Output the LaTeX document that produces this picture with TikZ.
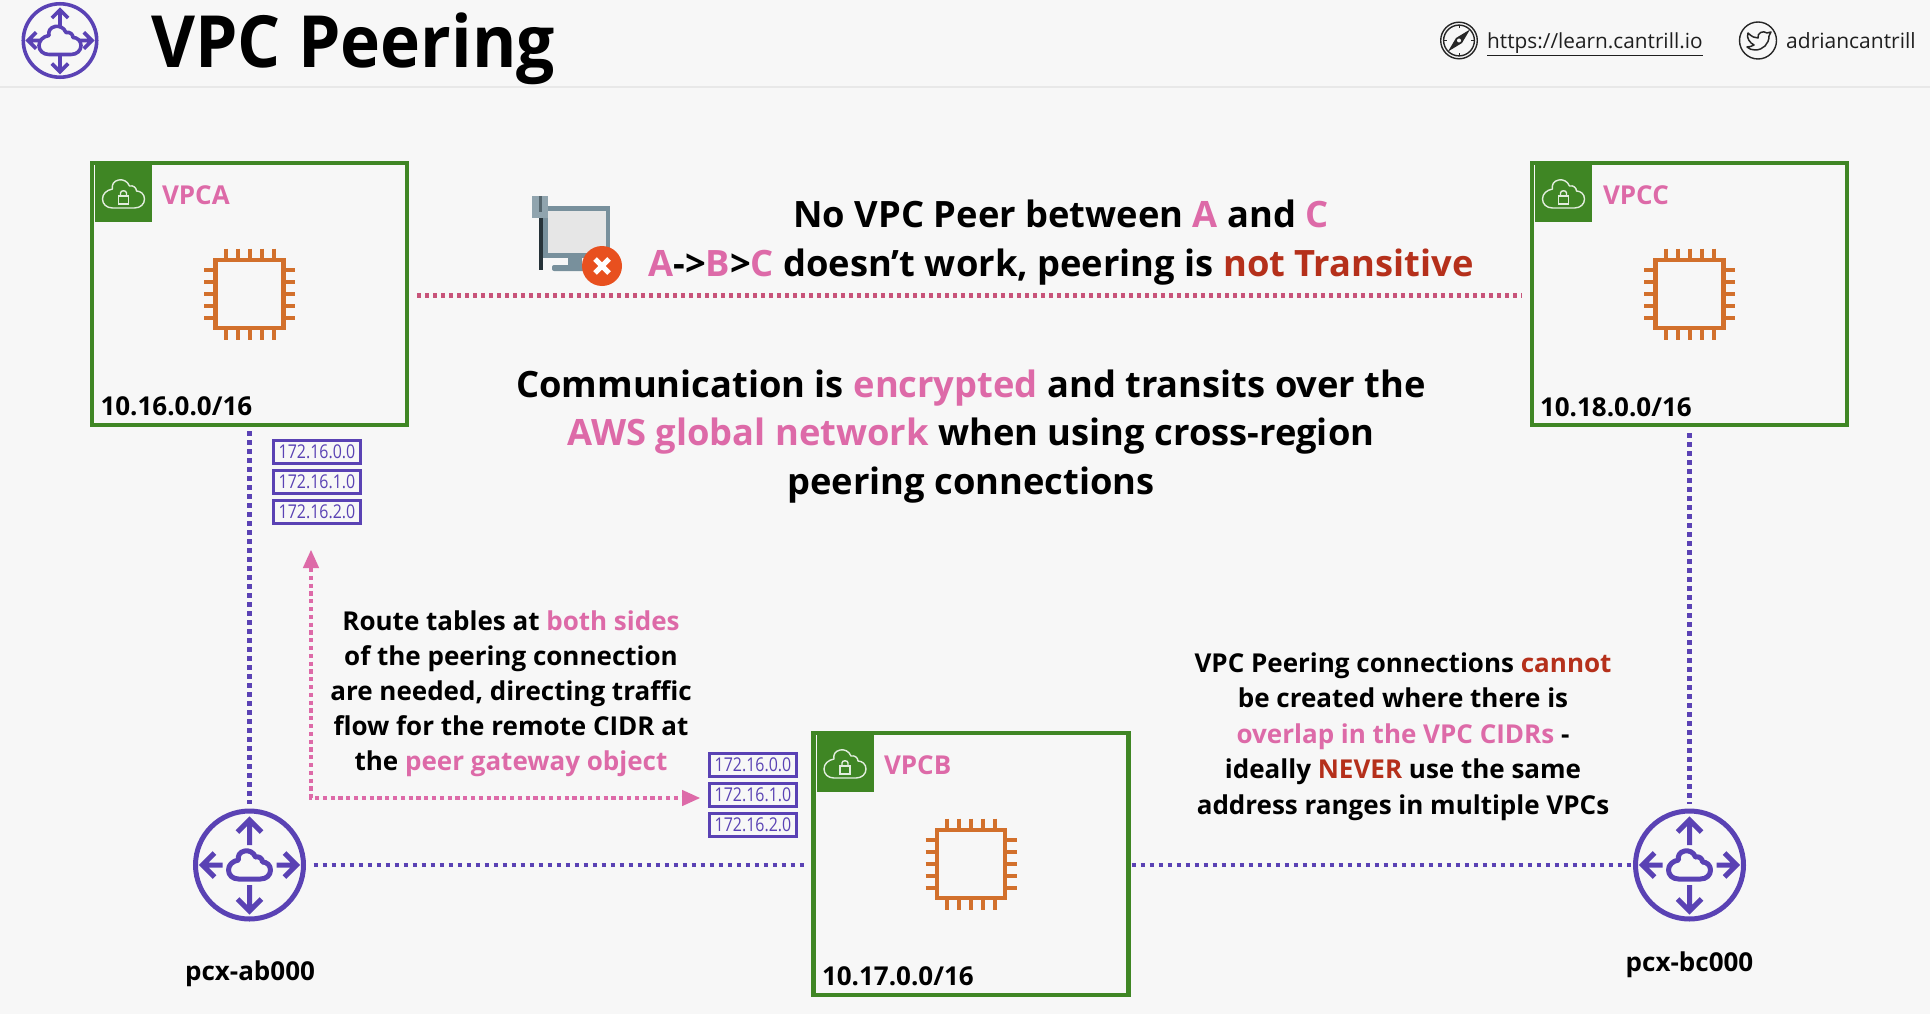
\documentclass[tikz,border=0pt]{standalone}
\usepackage{fontspec}
\setmainfont{Open Sans}
\newfontfamily\narrowfont[FakeStretch=0.84]{Open Sans}
\newfontfamily\titlefont[FakeStretch=0.94]{Open Sans}
\usetikzlibrary{arrows.meta,calc}
\definecolor{bgc}{HTML}{F7F7F7}
\definecolor{purp}{HTML}{5A42B4}
\definecolor{pinktxt}{HTML}{DD6AA8}
\definecolor{redtxt}{HTML}{B5301B}
\definecolor{vgreen}{HTML}{3F8624}
\definecolor{chipc}{HTML}{D2702C}
\definecolor{reddot}{HTML}{C8547A}
\definecolor{monframe}{HTML}{78909C}
\definecolor{monscreen}{HTML}{E6E6E6}
\definecolor{mondark}{HTML}{263238}
\definecolor{monblock}{HTML}{90A4AE}
\definecolor{monx}{HTML}{E8501F}
\newcommand\pk[1]{\textcolor{pinktxt}{#1}}
\newcommand\rd[1]{\textcolor{redtxt}{#1}}
\newcommand\fs[2]{\fontsize{#1}{#2}\selectfont}
\tikzset{
  x=1pt,y=-1pt,
  vpcbox/.style={draw=vgreen,line width=4.2pt,rectangle,inner sep=0pt,outer sep=0pt,minimum width=315pt,minimum height=262pt},
  rtbox/.style={draw=purp,line width=3.5pt,rectangle,inner sep=0pt,outer sep=0pt,minimum width=87pt,minimum height=23pt,text=purp,font=\narrowfont\fs{19}{19}},
  lbl/.style={inner sep=0pt,outer sep=0pt,font=\bfseries\fs{26}{30}},
  para/.style={inner sep=0pt,outer sep=0pt,align=center},
  peernode/.style={circle,inner sep=0pt,outer sep=0pt,minimum size=112pt},
  purpline/.style={draw=purp,line width=4.5pt,dash pattern=on 4.5pt off 4.5pt},
  redline/.style={draw=reddot,line width=4.5pt,dash pattern=on 4.2pt off 3.8pt},
  pinkarrow/.style={draw=pinktxt,line width=4.5pt,dash pattern=on 4.2pt off 3.6pt},
  cloudshape/.pic={
    \draw[pic actions,line join=round] (-11,14) -- (11,14) .. controls (17,14) and (21,10) .. (21,5) .. controls (21,0) and (17,-3) .. (13,-3) .. controls (13,-6) and (10,-9) .. (6,-8) .. controls (4,-13) and (-1,-15) .. (-5,-14) .. controls (-10,-13) and (-12,-9) .. (-11,-5) .. controls (-17,-4) and (-21,0) .. (-21,5) .. controls (-21,10) and (-17,14) .. (-11,14) -- cycle;
  },
  peerpic/.pic={
    \draw[purp] (0,0) circle[radius=54];
    \begin{scope}[purp,line join=miter]
      \draw (0,-20) -- (0,-45) (-12,-33) -- (0,-45) -- (12,-33);
      \draw (0,20) -- (0,46) (-12,34) -- (0,46) -- (12,34);
      \draw (-27,0) -- (-47,0) (-35,-12) -- (-47,0) -- (-35,12);
      \draw (27,0) -- (47,0) (35,-12) -- (47,0) -- (35,12);
    \end{scope}
    \pic[draw=purp] {cloudshape};
  },
  vpcicons/.pic={
    \fill[vgreen] (-154.5,-129) rectangle (-97.5,-72);
    \begin{scope}[shift={(-126,-100)}]
      \pic[draw=white!85!vgreen,line width=1.4pt] {cloudshape};
      \draw[white!85!vgreen,line width=1.4pt] (-5,2) rectangle (5,10);
      \draw[white!85!vgreen,line width=1.4pt] (-3,2) -- (-3,-1) .. controls (-3,-4) and (3,-4) .. (3,-1) -- (3,2);
    \end{scope}
    \draw[chipc,line width=4.2pt] (-34,-34) rectangle (34,34);
    \foreach \k in {-24,-12,0,12,24}{
      \draw[chipc,line width=4pt] (\k,-45.5) -- (\k,-34) (\k,34) -- (\k,45.5) (-45.5,\k) -- (-34,\k) (34,\k) -- (45.5,\k);
    }
  },
}
\begin{document}
\begin{tikzpicture}
\useasboundingbox (0,0) rectangle (1930,1014);
\fill[bgc] (0,0) rectangle (1930,1014);
\draw[black!9,line width=1.5pt] (0,87) -- (1930,87);

% header
\pic[scale=0.68,line width=3.6pt] at (60,40.5) {peerpic};
\node[inner sep=0pt,anchor=base west,font=\titlefont\bfseries\fs{72}{80}] (title) at (151,67.5) {VPC Peering};

% link icons
\draw[black!85,line width=1.4pt] (1459,40.5) circle[radius=18.3] circle[radius=15.4];
\fill[black!85] (1448,51.5) -- (1456,38) -- (1470,29.5) -- (1462,43) -- cycle;
\fill[bgc] (1459,40.5) circle[radius=2];
\foreach \a in {0,90,180,270}{\draw[black!85,line width=1pt] (1459,40.5) ++(\a:15.4) -- ++(\a:-3);}
\node[inner sep=0pt,anchor=base west,text=black!88,font=\fs{20.8}{26}] (site) at (1487,49) {\underline{https://learn.cantrill.io}};
\draw[black!85,line width=1.4pt] (1758,40.5) circle[radius=18.5];
\draw[black!85,line width=1.5pt,line join=round] (1748,33) .. controls (1752,37) and (1755,38) .. (1758,38) .. controls (1757,33) and (1763,30) .. (1767,33) -- (1771,32) -- (1769,36) .. controls (1769,44) and (1763,50) .. (1755,50) .. controls (1752,50) and (1749,49) .. (1747,47) .. controls (1750,47) and (1752,46) .. (1754,45) .. controls (1750,43) and (1746,38) .. (1748,33) -- cycle;
\node[inner sep=0pt,anchor=base west,text=black!88,font=\fs{21}{26}] (handle) at (1786,49) {adriancantrill};

% VPC boxes
\node[vpcbox] (vpca) at (249.5,294) {};
\node[vpcbox] (vpcc) at (1689.5,294) {};
\node[vpcbox] (vpcb) at (971,864) {};
\pic at (vpca.center) {vpcicons};
\pic at (vpcc.center) {vpcicons};
\pic at (vpcb.center) {vpcicons};
\node[lbl,anchor=base west,text=pinktxt] (la) at (162,204) {VPCA};
\node[lbl,anchor=base west,text=pinktxt] (lc) at (1603,204) {VPCC};
\node[lbl,anchor=base west,text=pinktxt] (lb) at (884,774) {VPCB};
\node[lbl,anchor=base west] (ca) at (100.5,415) {10.16.0.0/16};
\node[lbl,anchor=base west] (cc) at (1540,416) {10.18.0.0/16};
\node[lbl,anchor=base west] (cb) at (822,985) {10.17.0.0/16};

% peering icons
\node[peernode] (pcxab) at (249.5,865) {};
\node[peernode] (pcxbc) at (1689.5,865) {};
\pic[line width=5pt] at (pcxab.center) {peerpic};
\pic[line width=5pt] at (pcxbc.center) {peerpic};
\node[lbl,anchor=base] (lab) at (250,980) {pcx-ab000};
\node[lbl,anchor=base] (lbc) at (1689.5,971) {pcx-bc000};

% connectors
\draw[purpline,shorten <=6pt,shorten >=5pt] (vpca.south) -- (pcxab.north);
\draw[purpline,shorten <=8pt,shorten >=5pt] (vpcc.south) -- (pcxbc.north);
\draw[purpline,shorten <=8pt,shorten >=7pt] (pcxab.east) -- (pcxab.east -| vpcb.west);
\draw[purpline,shorten <=3pt,shorten >=3pt] (pcxbc.west -| vpcb.east) -- (pcxbc.west);
\draw[redline,shorten <=10pt,shorten >=10pt] ($(vpca.east)+(0,1.5)$) -- ($(vpcc.west)+(0,1.5)$);

% route tables
\node[rtbox] (ra1) at (317,451.8) {172.16.0.0};
\node[rtbox] (ra2) at (317,482) {172.16.1.0};
\node[rtbox] (ra3) at (317,512.2) {172.16.2.0};
\node[rtbox] (rb1) at (753,764.8) {172.16.0.0};
\node[rtbox] (rb2) at (753,795) {172.16.1.0};
\node[rtbox] (rb3) at (753,825.2) {172.16.2.0};

% route arrow
\coordinate (tipup) at (311,568);
\coordinate (tipright) at (682,798);
\draw[pinkarrow] (tipup) |- (tipright);
\fill[pinktxt] (311,550) -- (319.2,568) -- (302.8,568) -- cycle;
\fill[pinktxt] (700,798) -- (682,789.8) -- (682,806.2) -- cycle;

% monitor
\fill[monframe] (543,206) rectangle (610,258);
\fill[monscreen] (548,211) rectangle (606,253);
\fill[monframe] (568,258) rectangle (582,266);
\fill[monframe,rounded corners=2pt] (552,265) rectangle (592,271);
\fill[mondark] (538.5,218) rectangle (542.5,270);
\fill[monblock] (532,196) rectangle (548,218);
\fill[monframe!70!black] (538.5,196) rectangle (542,212);
\fill[monx] (602,266) circle[radius=20];
\draw[white,line width=5pt] (595,259) -- (609,273) (609,259) -- (595,273);

% texts
\node[para,font=\bfseries\fs{36.3}{49}] (t1) at (1061,243) {No VPC Peer between \pk{A} and \pk{C}\\\pk{A}->\pk{B}>\pk{C} doesn’t work, peering is \rd{not Transitive}};
\node[para,font=\bfseries\fs{36.3}{48.5}] (t2) at (971,436.5) {Communication is \pk{encrypted} and transits over the\\\pk{AWS global network} when using cross-region\\peering connections};
\node[para,font=\bfseries\fs{26}{35}] (t3) at (511,694) {Route tables at \pk{both sides}\\of the peering connection\\are needed, directing traffic\\flow for the remote CIDR at\\the \pk{peer gateway object}};
\node[para,font=\bfseries\fs{26}{35.4}] (t4) at (1403,736.5) {VPC Peering connections \rd{cannot}\\be created where there is\\\pk{overlap in the VPC CIDRs} -\\ideally \rd{NEVER} use the same\\address ranges in multiple VPCs};
\end{tikzpicture}
\end{document}
